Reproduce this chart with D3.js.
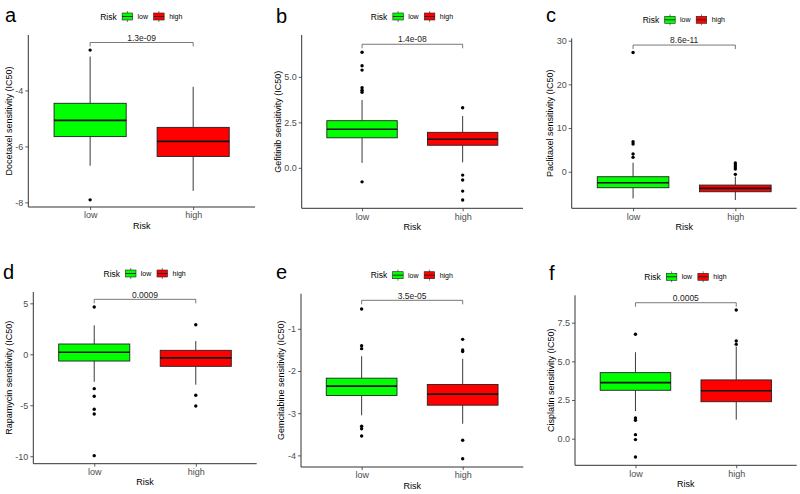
<!DOCTYPE html>
<html>
<head>
<meta charset="utf-8">
<script src="https://cdn.jsdelivr.net/npm/d3@7"></script>
<style>
  html, body { margin: 0; padding: 0; background: #fff; }
  text { font-family: "Liberation Sans", Arial, Helvetica, sans-serif; }
</style>
</head>
<body>
<svg id="chart" width="800" height="494"></svg>
<script>
// ---------------- DATA ----------------
const panelLetters = ["a", "b", "c", "d", "e", "f"];
const drugs = ["Docetaxel", "Gefitinib", "Paclitaxel", "Rapamycin", "Gemcitabine", "Cisplatin"];
const groups = ["low", "high"];
const pValues = ["1.3e-09", "1.4e-08", "8.6e-11", "0.0009", "3.5e-05", "0.0005"];
const yTicks = [[-8, -6, -4], [0, 2.5, 5], [0, 10, 20, 30], [-10, -5, 0, 5], [-4, -3, -2, -1], [0, 2.5, 5, 7.5]];
const yTickLabels = [["-8", "-6", "-4"], ["0.0", "2.5", "5.0"], ["0", "10", "20", "30"], ["-10", "-5", "0", "5"], ["-4", "-3", "-2", "-1"], ["0.0", "2.5", "5.0", "7.5"]];
const yDomains = [[-8.165, -2.02], [-2.225, 7.30], [-8.37, 30.55], [-10.73, 6.11], [-4.275, -0.168], [-1.72, 9.27]];
const bracketY = [-2.287, 6.79, 29.0, 5.39, -0.325, 8.79];
// box stats: [lower whisker, Q1, median, Q3, upper whisker]
const lowStats = [
  [-6.69, -5.65, -5.07, -4.46, -2.79],
  [0.27, 1.65, 2.12, 2.59, 3.73],
  [-6.1, -3.66, -2.52, -1.14, 2.06],
  [-2.7, -0.66, 0.20, 1.01, 2.84],
  [-3.05, -2.58, -2.36, -2.17, -1.65],
  [1.79, 3.13, 3.62, 4.27, 5.59]
];
const highStats = [
  [-7.59, -6.36, -5.82, -5.32, -3.87],
  [0.30, 1.24, 1.57, 1.95, 2.85],
  [-6.48, -4.58, -3.81, -3.05, -1.1],
  [-2.98, -1.18, -0.36, 0.39, 1.3],
  [-3.25, -2.81, -2.55, -2.32, -1.71],
  [1.23, 2.39, 3.10, 3.80, 5.95]
];
const lowOutliers = [
  [-2.56, -7.91],
  [6.35, 5.61, 5.37, 4.40, 4.27, 4.15, -0.77],
  [27.3, 6.87, 6.34, 4.05, 3.3],
  [4.64, -3.37, -4.12, -5.39, -5.85, -9.94],
  [-0.53, -1.40, -1.47, -3.31, -3.37, -3.54],
  [6.75, 1.34, 1.19, 0.26, -0.06, -1.18]
];
const highOutliers = [
  [],
  [3.30, -0.40, -0.67, -1.28, -1.77],
  [1.99, 1.53, 1.08, 0.62, -0.6],
  [2.9, -4.02, -5.07],
  [-1.25, -1.50, -1.54, -3.64, -4.08],
  [8.32, 6.32, 6.10]
];
const groupColors = ["#00FF00", "#FF0000"];

// ---------------- LAYOUT (positions, not data) ----------------
const plotRects = [
  { x0: 28.3, x1: 255.0, y0: 35.0, y1: 207.0 },
  { x0: 301.7, x1: 523.0, y0: 35.0, y1: 208.3 },
  { x0: 571.7, x1: 796.7, y0: 38.3, y1: 208.3 },
  { x0: 33.3, x1: 256.7, y0: 292.0, y1: 463.7 },
  { x0: 301.0, x1: 523.3, y0: 293.7, y1: 467.0 },
  { x0: 575.0, x1: 796.7, y0: 295.3, y1: 465.3 }
];
const letterPos = [
  { x: 5, y: 22 }, { x: 276, y: 23 }, { x: 546, y: 22 },
  { x: 3, y: 279 }, { x: 276, y: 279 }, { x: 549, y: 280 }
];

const svg = d3.select("#chart");
svg.append("rect").attr("width", 800).attr("height", 494).attr("fill", "#fff");

const axisColor = "#333";
const tickTextColor = "#4D4D4D";

panelLetters.forEach((letter, i) => {
  const r = plotRects[i];
  const g = svg.append("g");

  const x = d3.scalePoint().domain(groups).range([r.x0, r.x1]).padding(0.6);
  const y = d3.scaleLinear().domain(yDomains[i]).range([r.y1, r.y0]);
  const boxW = x.step() * 0.7;

  // Axes
  const yAxis = d3.axisLeft(y).tickValues(yTicks[i]).tickSize(3).tickPadding(2)
    .tickFormat((d, k) => yTickLabels[i][k]);
  const ya = g.append("g").attr("transform", `translate(${r.x0},0)`).call(yAxis);
  ya.select(".domain").attr("d", `M0,${r.y0}V${r.y1}`).attr("stroke", axisColor).attr("stroke-width", 1);
  ya.selectAll(".tick line").attr("stroke", axisColor).attr("stroke-width", 0.8);
  ya.selectAll(".tick text").attr("fill", tickTextColor).style("font-size", "9px")
    .style("font-family", '"Liberation Sans", Arial, sans-serif');

  const xAxis = d3.axisBottom(x).tickSize(3).tickPadding(2);
  const xa = g.append("g").attr("transform", `translate(0,${r.y1})`).call(xAxis);
  xa.select(".domain").attr("d", `M${r.x0},0H${r.x1}`).attr("stroke", axisColor).attr("stroke-width", 1);
  xa.selectAll(".tick line").attr("stroke", axisColor).attr("stroke-width", 0.8);
  xa.selectAll(".tick text").attr("fill", tickTextColor).style("font-size", "9px")
    .style("font-family", '"Liberation Sans", Arial, sans-serif');

  // Axis titles
  const cx = (r.x0 + r.x1) / 2;
  const cy = (r.y0 + r.y1) / 2;
  g.append("text").attr("x", cx).attr("y", r.y1 + 21.5).attr("text-anchor", "middle")
    .style("font-size", "9px").attr("fill", "#000").text("Risk");

  let maxW = 0;
  ya.selectAll(".tick text").each(function () { maxW = Math.max(maxW, this.getComputedTextLength()); });
  const tx = r.x0 - 5 - maxW - 3.5;
  g.append("text").attr("transform", `translate(${tx},${cy}) rotate(-90)`)
    .attr("text-anchor", "middle").style("font-size", "9px").attr("fill", "#000")
    .text(drugs[i] + " sensitivity (IC50)");

  // Boxes
  const stats = [lowStats[i], highStats[i]];
  const outs = [lowOutliers[i], highOutliers[i]];
  groups.forEach((grp, k) => {
    const s = stats[k];
    const xc = x(grp);
    // whiskers
    g.append("line").attr("x1", xc).attr("x2", xc).attr("y1", y(s[4])).attr("y2", y(s[3]))
      .attr("stroke", "#222").attr("stroke-width", 0.9);
    g.append("line").attr("x1", xc).attr("x2", xc).attr("y1", y(s[1])).attr("y2", y(s[0]))
      .attr("stroke", "#222").attr("stroke-width", 0.9);
    // box
    g.append("rect").attr("x", xc - boxW / 2).attr("width", boxW)
      .attr("y", y(s[3])).attr("height", y(s[1]) - y(s[3]))
      .attr("fill", groupColors[k]).attr("stroke", "#222").attr("stroke-width", 0.9);
    // median
    g.append("line").attr("x1", xc - boxW / 2).attr("x2", xc + boxW / 2)
      .attr("y1", y(s[2])).attr("y2", y(s[2]))
      .attr("stroke", "#111").attr("stroke-width", 1.7);
    // outliers
    g.selectAll(null).data(outs[k]).enter().append("circle")
      .attr("cx", xc).attr("cy", d => y(d)).attr("r", 1.7).attr("fill", "#000");
  });

  // significance bracket
  const by = y(bracketY[i]);
  const xl = x(groups[0]), xr = x(groups[1]);
  g.append("path").attr("d", `M${xl},${by + 4}V${by}H${xr}V${by + 4}`)
    .attr("fill", "none").attr("stroke", "#555").attr("stroke-width", 0.8);
  g.append("text").attr("x", (xl + xr) / 2).attr("y", by - 1.8).attr("text-anchor", "middle")
    .style("font-size", "8.5px").attr("fill", "#222").text(pValues[i]);

  // panel letter
  g.append("text").attr("x", letterPos[i].x).attr("y", letterPos[i].y)
    .style("font-size", "20px").attr("fill", "#000").text(letter);

  // legend
  const ly = r.y0 - 18.5;
  const leg = g.append("g");
  leg.append("text").attr("x", cx - 41.5).attr("y", ly + 3).style("font-size", "8.5px")
    .attr("fill", "#000").text("Risk");
  const keyX = [cx - 19.5, cx + 12];
  const labX = [cx - 4.2, cx + 27.5];
  groups.forEach((grp, k) => {
    const kx = keyX[k];
    const kw = 10.5;
    leg.append("line").attr("x1", kx + kw / 2).attr("x2", kx + kw / 2).attr("y1", ly - 5.5).attr("y2", ly + 5.5)
      .attr("stroke", "#222").attr("stroke-width", 0.6);
    leg.append("rect").attr("x", kx).attr("y", ly - 3.5).attr("width", kw).attr("height", 7)
      .attr("fill", groupColors[k]).attr("stroke", "#222").attr("stroke-width", 0.6);
    leg.append("line").attr("x1", kx).attr("x2", kx + kw).attr("y1", ly).attr("y2", ly)
      .attr("stroke", "#222").attr("stroke-width", 0.9);
    leg.append("text").attr("x", labX[k]).attr("y", ly + 2.5).style("font-size", "7px")
      .attr("fill", "#000").text(grp);
  });
});
</script>
</body>
</html>
